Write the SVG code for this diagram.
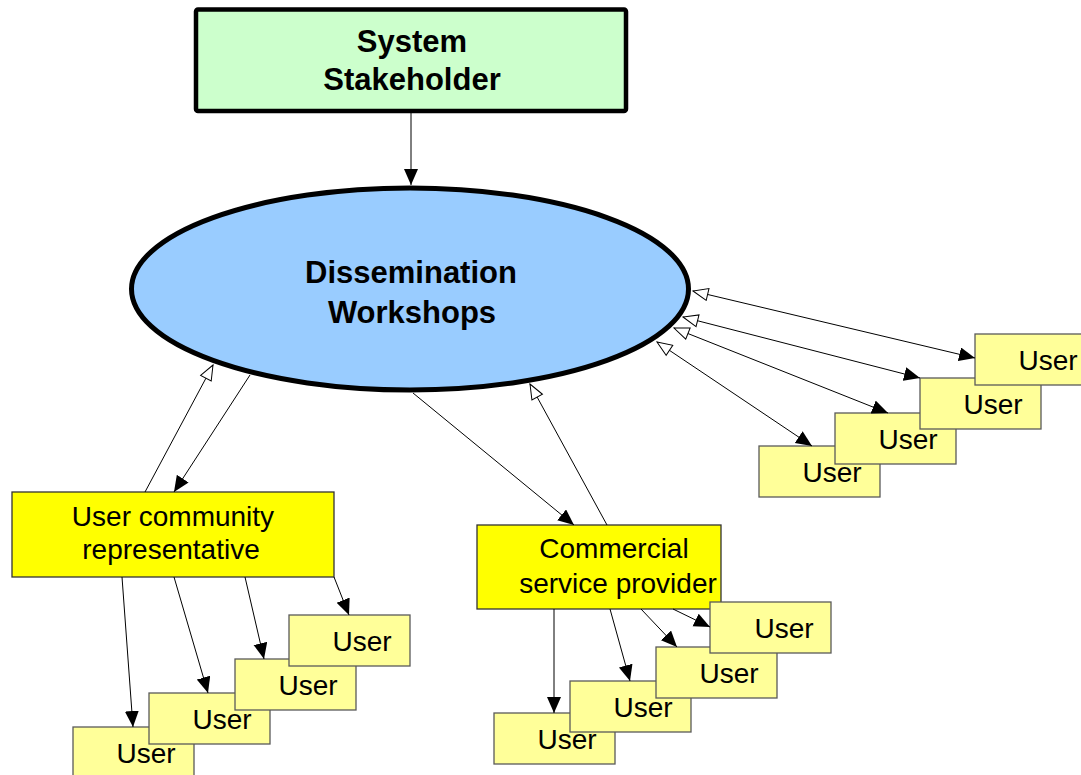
<svg xmlns="http://www.w3.org/2000/svg" width="1081" height="775" viewBox="0 0 1081 775">
<defs>
<style>
.conn line{stroke:#000;stroke-width:1;fill:none}
.f{marker-end:url(#filled)}
.o{marker-end:url(#open)}
.b{marker-start:url(#open);marker-end:url(#filled)}
.user rect{fill:#FFFF99;stroke:#5a5a5a;stroke-width:1.3}
.user text,.yel text{font-family:"Liberation Sans",Arial,sans-serif;font-size:28px;fill:#000;text-anchor:middle}
.yel rect{fill:#FFFF00;stroke:#333;stroke-width:1.3}
.bold{font-family:"Liberation Sans",Arial,sans-serif;font-size:31px;font-weight:bold;fill:#000;text-anchor:middle}
</style>
<marker id="filled" markerUnits="userSpaceOnUse" markerWidth="17" markerHeight="15" refX="16" refY="7" orient="auto">
<path d="M0,0 L16,7 L0,14 z" fill="#000"/>
</marker>
<marker id="open" markerUnits="userSpaceOnUse" markerWidth="18" markerHeight="14" refX="16" refY="7" orient="auto-start-reverse">
<path d="M1,1 L16,7 L1,13 z" fill="#fff" stroke="#000" stroke-width="1"/>
</marker>
</defs>
<rect width="1081" height="775" fill="#fff"/>

<g id="stakeholder">
<rect x="196" y="9.5" width="430" height="101.5" rx="2" fill="#CCFFCC" stroke="#000" stroke-width="4.5"/>
<text class="bold" x="412" y="52">System</text>
<text class="bold" x="412" y="90">Stakeholder</text>
</g>

<g id="workshops">
<ellipse cx="410" cy="289" rx="278.5" ry="101" fill="#99CCFF" stroke="#000" stroke-width="5"/>
<text class="bold" x="411" y="283">Dissemination</text>
<text class="bold" x="412" y="323">Workshops</text>
</g>

<g id="ucr" class="yel">
<rect x="12" y="492" width="322" height="85"/>
<text x="173" y="526">User community</text>
<text x="171" y="559">representative</text>
</g>

<g id="commercial" class="yel">
<rect x="477" y="525" width="244" height="84"/>
<text x="614" y="558">Commercial</text>
<text x="618" y="593">service provider</text>
</g>

<g id="user-r4" class="user"><rect x="759" y="446" width="121" height="51"/><text x="832" y="482">User</text></g>
<g id="user-r3" class="user"><rect x="835" y="413" width="121" height="51"/><text x="908" y="449">User</text></g>
<g id="user-r2" class="user"><rect x="920" y="378" width="121" height="51"/><text x="993" y="414">User</text></g>
<g id="user-r1" class="user"><rect x="975" y="334" width="121" height="51"/><text x="1048" y="370">User</text></g>

<g id="user-l4" class="user"><rect x="73" y="727" width="121" height="51"/><text x="146" y="763">User</text></g>
<g id="user-l3" class="user"><rect x="149" y="693" width="121" height="51"/><text x="222" y="729">User</text></g>
<g id="user-l2" class="user"><rect x="235" y="659" width="121" height="51"/><text x="308" y="695">User</text></g>
<g id="user-l1" class="user"><rect x="289" y="615" width="121" height="51"/><text x="362" y="651">User</text></g>

<g id="user-c4" class="user"><rect x="494" y="713" width="121" height="51"/><text x="567" y="749">User</text></g>
<g id="user-c3" class="user"><rect x="570" y="681" width="121" height="51"/><text x="643" y="717">User</text></g>
<g id="user-c2" class="user"><rect x="656" y="647" width="121" height="51"/><text x="729" y="683">User</text></g>
<g id="user-c1" class="user"><rect x="710" y="602" width="121" height="51"/><text x="784" y="638">User</text></g>

<g id="connectors" class="conn">
<line class="f" x1="411" y1="113" x2="411" y2="185"/>
<line class="f" x1="250" y1="375" x2="174" y2="492"/>
<line class="o" x1="145" y1="492" x2="213" y2="365"/>
<line class="f" x1="413" y1="393" x2="574" y2="525"/>
<line class="o" x1="607" y1="525" x2="530" y2="384"/>
<line class="b" x1="693" y1="291" x2="975" y2="358"/>
<line class="b" x1="683" y1="317" x2="920" y2="378"/>
<line class="b" x1="674" y1="328" x2="888" y2="413"/>
<line class="b" x1="657" y1="342" x2="812" y2="446"/>
<line class="f" x1="122" y1="577" x2="133" y2="727"/>
<line class="f" x1="174" y1="577" x2="208" y2="693"/>
<line class="f" x1="245" y1="577" x2="264" y2="659"/>
<line class="f" x1="334" y1="577" x2="349" y2="615"/>
<line class="f" x1="554" y1="609" x2="554" y2="713"/>
<line class="f" x1="610" y1="609" x2="630" y2="681"/>
<line class="f" x1="641" y1="609" x2="677" y2="647"/>
<line class="f" x1="673" y1="609" x2="710" y2="627"/>
</g>
</svg>
